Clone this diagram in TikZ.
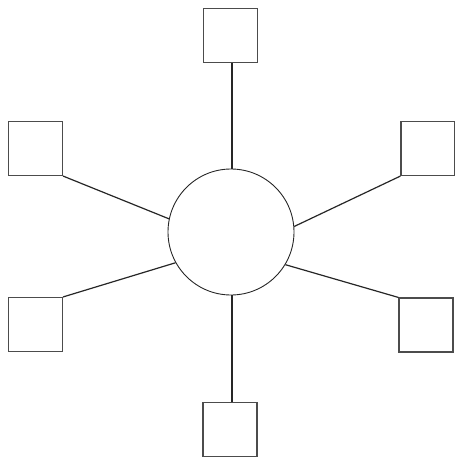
\documentclass[tikz,border=0pt]{standalone}
\begin{document}
\begin{tikzpicture}[x=1pt,y=-1pt,
  box/.style={draw=black!70, line width=1.1pt, minimum width=54pt, minimum height=54pt, inner sep=0pt, rectangle},
  hub/.style={draw=black!85, line width=0.9pt, circle, minimum size=126pt, inner sep=0pt},
  link/.style={draw=black!85, line width=1.2pt}]
\useasboundingbox (0,0) rectangle (455,461);
\node[hub] (c) at (231,232) {};
\node[box] (t) at (230.5,35.5) {};
\node[box] (tl) at (35.5,148.5) {};
\node[box] (tr) at (428,148.5) {};
\node[box] (bl) at (35.5,324.5) {};
\node[box] (br) at (426,325) {};
\node[box] (b) at (230,429.5) {};
\draw[link] (t.south) ++(1.5,0) coordinate (ts) -- (c.north -| ts);
\draw[link] (b.north) ++(2,0) coordinate (bn) -- (c.south -| bn);
\draw[link] (tl.south east) -- (c.168);
\draw[link] (tr.south west) -- (c.5);
\draw[link] (bl.north east) -- (c.209);
\draw[link] (br.north west) -- (c.329);
\end{tikzpicture}
\end{document}
